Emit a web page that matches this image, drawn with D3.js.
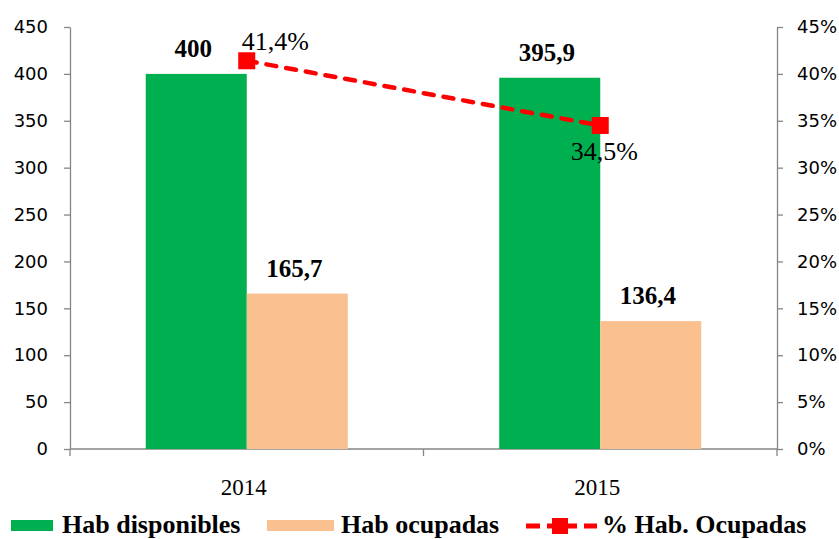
<!doctype html>
<html>
  <head>
    <meta charset="utf-8">
    <title>Habitaciones disponibles y ocupadas</title>
    <script src="https://cdnjs.cloudflare.com/ajax/libs/d3/7.8.5/d3.min.js"></script>
    <style>
      body { margin: 0; background: #fff; }
      .tick text { font-family: "DejaVu Sans", sans-serif; font-size: 18px; fill: #000; }
      .axis path, .axis line { stroke: #868686; stroke-width: 1.3; }
      .serif { font-family: "Liberation Serif", "Times New Roman", serif; fill: #000; }
    </style>
  </head>
  <body>
    <div id="chart"></div>
    <script>
      // data
      const years = ['2014', '2015'];
      const habDisponibles = [400, 395.9];
      const habOcupadas = [165.7, 136.4];
      const pctOcupadas = [41.4, 34.5];
      const leftTicks = [0, 50, 100, 150, 200, 250, 300, 350, 400, 450];
      const rightTicks = [0, 5, 10, 15, 20, 25, 30, 35, 40, 45];
      const seriesNames = ['Hab disponibles', 'Hab ocupadas', '% Hab. Ocupadas'];
      const seriesColors = ['#00B050', '#FAC090', '#FF0000'];

      const fmt = v => String(v).replace('.', ',');

      const W = 839, H = 539;
      const plotLeft = 70, plotRight = 777, plotTop = 27, plotBottom = 449;

      const svg = d3.select('#chart').append('svg')
        .attr('width', W)
        .attr('height', H);

      const x0 = d3.scaleBand().domain(years).range([plotLeft, plotRight]).padding(0);
      const x1 = d3.scaleBand().domain([0, 1]).range([0, x0.bandwidth()])
        .paddingInner(0).paddingOuter(0.75);
      const yL = d3.scaleLinear().domain([0, 450]).range([plotBottom, plotTop]);
      const yR = d3.scaleLinear().domain([0, 45]).range([plotBottom, plotTop]);

      // axes
      svg.append('g').attr('class', 'axis')
        .attr('transform', `translate(${plotLeft},0)`)
        .call(d3.axisLeft(yL).tickValues(leftTicks).tickSize(6).tickSizeOuter(0).tickPadding(16));

      svg.append('g').attr('class', 'axis')
        .attr('transform', `translate(${plotRight},0)`)
        .call(d3.axisRight(yR).tickValues(rightTicks).tickSize(6).tickSizeOuter(0).tickPadding(14)
          .tickFormat(d => d + '%'));

      // bottom axis line with category separators
      const gx = svg.append('g').attr('class', 'axis');
      gx.append('line')
        .attr('x1', plotLeft).attr('x2', plotRight)
        .attr('y1', plotBottom).attr('y2', plotBottom);
      const seps = years.map(y => x0(y)).concat([x0.range()[1]]);
      gx.selectAll('line.sep').data(seps).join('line')
        .attr('class', 'sep')
        .attr('x1', d => d).attr('x2', d => d)
        .attr('y1', plotBottom).attr('y2', plotBottom + 7);

      svg.selectAll('text.year').data(years).join('text')
        .attr('class', 'year serif')
        .attr('x', d => x0(d) + x0.bandwidth() / 2 - 3)
        .attr('y', 495)
        .attr('text-anchor', 'middle')
        .style('font-size', '23px')
        .text(d => d);

      // bars
      const barSeries = [habDisponibles, habOcupadas];
      barSeries.forEach((vals, s) => {
        svg.selectAll('rect.s' + s).data(vals).join('rect')
          .attr('class', 's' + s)
          .attr('x', (d, i) => x0(years[i]) + x1(s))
          .attr('y', d => yL(d))
          .attr('width', x1.bandwidth())
          .attr('height', d => yL(0) - yL(d))
          .style('fill', seriesColors[s]);

        svg.selectAll('text.l' + s).data(vals).join('text')
          .attr('class', 'l' + s + ' serif')
          .attr('x', (d, i) => x0(years[i]) + x1(s) + x1.bandwidth() / 2 - 3)
          .attr('y', d => yL(d) - 17)
          .attr('text-anchor', 'middle')
          .style('font-size', '25px')
          .style('font-weight', 'bold')
          .text(d => fmt(d));
      });

      // line on right axis
      const cx = i => x0(years[i]) + x0.bandwidth() / 2;
      const line = d3.line()
        .x((d, i) => cx(i))
        .y(d => yR(d));

      svg.append('path')
        .datum(pctOcupadas)
        .attr('d', line)
        .style('fill', 'none')
        .style('stroke', seriesColors[2])
        .style('stroke-width', 4.5)
        .style('stroke-dasharray', '10,10')
        .style('stroke-linecap', 'round');

      svg.selectAll('rect.mk').data(pctOcupadas).join('rect')
        .attr('class', 'mk')
        .attr('x', (d, i) => cx(i) - 8.5)
        .attr('y', d => yR(d) - 8.5)
        .attr('width', 17)
        .attr('height', 17)
        .style('fill', seriesColors[2]);

      // percentage labels: first above right, second below
      svg.selectAll('text.pl').data(pctOcupadas).join('text')
        .attr('class', 'pl serif')
        .attr('x', (d, i) => i === 0 ? cx(i) - 5 : cx(i) + 4)
        .attr('y', (d, i) => i === 0 ? yR(d) - 11 : yR(d) + 35)
        .attr('text-anchor', (d, i) => i === 0 ? 'start' : 'middle')
        .style('font-size', '26px')
        .text(d => fmt(d) + '%');

      // legend
      const lg = svg.append('g');
      lg.append('rect').attr('x', 11).attr('y', 520).attr('width', 42).attr('height', 11)
        .style('fill', seriesColors[0]);
      lg.append('text').attr('class', 'serif').attr('x', 62).attr('y', 533)
        .style('font-size', '26px').style('font-weight', 'bold').text(seriesNames[0]);

      lg.append('rect').attr('x', 267).attr('y', 520).attr('width', 67).attr('height', 11)
        .style('fill', seriesColors[1]);
      lg.append('text').attr('class', 'serif').attr('x', 341).attr('y', 533)
        .style('font-size', '26px').style('font-weight', 'bold').text(seriesNames[1]);

      lg.append('line').attr('x1', 526).attr('x2', 597).attr('y1', 526).attr('y2', 526)
        .style('stroke', seriesColors[2]).style('stroke-width', 5)
        .style('stroke-dasharray', '14,7,30,7');
      lg.append('rect').attr('x', 552).attr('y', 518).attr('width', 16).attr('height', 16)
        .style('fill', seriesColors[2]);
      lg.append('text').attr('class', 'serif').attr('x', 602).attr('y', 533)
        .style('font-size', '26px').style('font-weight', 'bold').text(seriesNames[2]);
    </script>
  </body>
</html>
